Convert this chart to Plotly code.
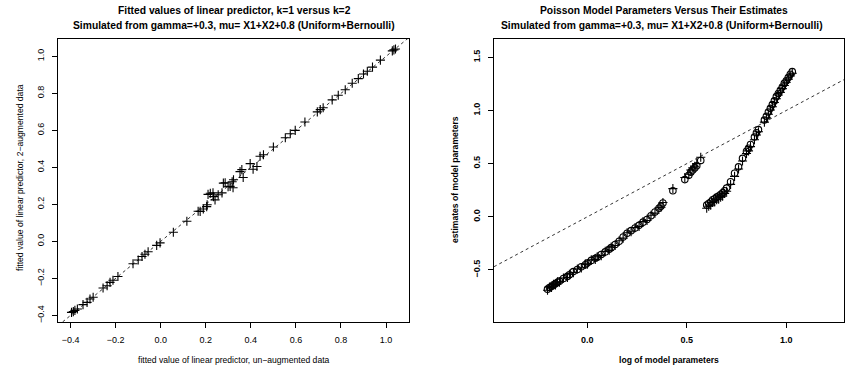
import plotly.graph_objects as go

W, H = 854, 368

# ---------------- Left panel data: fitted linear predictor k=1 vs k=2 ----------------
left_x = [-0.396, -0.388, -0.381, -0.370, -0.345, -0.327, -0.314, -0.300,
          -0.256, -0.238, -0.225, -0.212, -0.190,
          -0.123, -0.100, -0.083, -0.070, -0.056, -0.018, -0.003,
          0.056, 0.116, 0.166, 0.175, 0.189, 0.204, 0.206,
          0.210, 0.220, 0.232, 0.234, 0.241, 0.255, 0.272, 0.278, 0.286, 0.299,
          0.308, 0.317, 0.321, 0.323, 0.352, 0.360, 0.366, 0.397, 0.410,
          0.427, 0.441, 0.456,
          0.500, 0.553, 0.575, 0.597, 0.640, 0.695, 0.708, 0.721,
          0.761, 0.788, 0.819, 0.850, 0.877, 0.900, 0.917, 0.940,
          0.975, 1.028, 1.035, 1.042]
left_y = [-0.384, -0.380, -0.373, -0.366, -0.342, -0.330, -0.312, -0.302,
          -0.252, -0.240, -0.222, -0.210, -0.190,
          -0.121, -0.101, -0.082, -0.070, -0.056, -0.022, -0.008,
          0.049, 0.109, 0.163, 0.162, 0.175, 0.188, 0.198,
          0.254, 0.260, 0.262, 0.242, 0.224, 0.252, 0.262, 0.315, 0.317, 0.295,
          0.297, 0.322, 0.290, 0.333, 0.377, 0.388, 0.345, 0.420, 0.390,
          0.405, 0.460, 0.468,
          0.510, 0.560, 0.582, 0.600, 0.645, 0.700, 0.712, 0.722,
          0.765, 0.790, 0.820, 0.855, 0.880, 0.905, 0.920, 0.942,
          0.980, 1.030, 1.035, 1.040]

# ---------------- Right panel data: log true params vs estimates ----------------
right_x = [-0.20, -0.19, -0.18, -0.17, -0.16, -0.15, -0.14, -0.12, -0.10, -0.09,
           -0.07, -0.05, -0.03, -0.01, 0.00, 0.02, 0.04, 0.05, 0.07, 0.09,
           0.11, 0.12, 0.14, 0.16, 0.18, 0.20, 0.22, 0.24, 0.26, 0.28,
           0.30, 0.32, 0.34, 0.36, 0.37, 0.38, 0.43, 0.49, 0.51, 0.52,
           0.53, 0.54, 0.55, 0.57,
           0.60, 0.61, 0.62, 0.63, 0.64, 0.65, 0.66, 0.67, 0.68, 0.69,
           0.70, 0.72, 0.74, 0.76, 0.78, 0.80, 0.81, 0.82, 0.84, 0.85,
           0.86, 0.89, 0.90, 0.91, 0.92, 0.93, 0.94, 0.95, 0.96, 0.97,
           0.98, 0.99, 1.00, 1.01, 1.02, 1.03]
est_k1 = [-0.680, -0.665, -0.655, -0.640, -0.630, -0.615, -0.605, -0.580, -0.560, -0.545,
          -0.515, -0.495, -0.470, -0.450, -0.435, -0.410, -0.390, -0.380, -0.355, -0.330,
          -0.305, -0.290, -0.260, -0.230, -0.190, -0.155, -0.130, -0.105, -0.080, -0.050,
          -0.025, 0.010, 0.045, 0.080, 0.100, 0.130, 0.245, 0.350, 0.390, 0.420,
          0.440, 0.460, 0.480, 0.530,
          0.110, 0.125, 0.140, 0.160, 0.170, 0.185, 0.195, 0.210, 0.225, 0.245,
          0.270, 0.330, 0.410, 0.470, 0.550, 0.615, 0.645, 0.680, 0.750, 0.790,
          0.820, 0.910, 0.945, 0.985, 1.020, 1.055, 1.090, 1.130, 1.160, 1.190,
          1.220, 1.255, 1.280, 1.310, 1.340, 1.365]
est_k2 = [-0.690, -0.660, -0.665, -0.635, -0.640, -0.610, -0.615, -0.575, -0.570, -0.540,
          -0.525, -0.490, -0.480, -0.445, -0.445, -0.405, -0.400, -0.375, -0.365, -0.325,
          -0.315, -0.285, -0.270, -0.225, -0.200, -0.150, -0.140, -0.100, -0.090, -0.045,
          -0.035, 0.015, 0.035, 0.085, 0.090, 0.135, 0.265, 0.370, 0.400, 0.440,
          0.460, 0.475, 0.500, 0.560,
          0.080, 0.100, 0.110, 0.135, 0.140, 0.160, 0.165, 0.185, 0.195, 0.220,
          0.240, 0.305, 0.380, 0.450, 0.525, 0.595, 0.620, 0.660, 0.725, 0.770,
          0.800, 0.890, 0.930, 0.965, 1.005, 1.035, 1.075, 1.110, 1.145, 1.170,
          1.205, 1.235, 1.265, 1.295, 1.325, 1.350]

left_xrange = [-0.456, 1.102]
left_yrange = [-0.436, 1.094]
right_xrange = [-0.469, 1.290]
right_yrange = [-0.989, 1.672]

left_xticks = [-0.4, -0.2, 0.0, 0.2, 0.4, 0.6, 0.8, 1.0]
left_yticks = [-0.4, -0.2, 0.0, 0.2, 0.4, 0.6, 0.8, 1.0]
right_xticks = [0.0, 0.5, 1.0]
right_yticks = [-0.5, 0.0, 0.5, 1.0, 1.5]

FONT = "Liberation Sans, Arial, Helvetica, sans-serif"

fig = go.Figure()

# reference lines y = x (abline(0,1))
fig.add_trace(go.Scatter(x=left_xrange, y=left_xrange, mode="lines",
                         line=dict(color="black", width=0.8, dash="3px,3px"),
                         xaxis="x", yaxis="y", hoverinfo="skip"))
fig.add_trace(go.Scatter(x=right_xrange, y=right_xrange, mode="lines",
                         line=dict(color="black", width=0.8, dash="3px,3px"),
                         xaxis="x2", yaxis="y2", hoverinfo="skip"))

fig.add_trace(go.Scatter(x=left_x, y=left_y, mode="markers",
                         marker=dict(symbol="cross-thin-open", size=6.5, color="black",
                                     line=dict(color="black", width=1.1)),
                         xaxis="x", yaxis="y"))
fig.add_trace(go.Scatter(x=right_x, y=est_k1, mode="markers",
                         marker=dict(symbol="circle-open", size=6.5, color="black",
                                     line=dict(color="black", width=1.1)),
                         xaxis="x2", yaxis="y2"))
fig.add_trace(go.Scatter(x=right_x, y=est_k2, mode="markers",
                         marker=dict(symbol="cross-thin-open", size=6.5, color="black",
                                     line=dict(color="black", width=1.1)),
                         xaxis="x2", yaxis="y2"))

def px_x(p):
    return p / W

def px_y(p):
    return 1 - p / H

axis_common = dict(showgrid=False, zeroline=False, showline=True, mirror=True,
                   linecolor="black", linewidth=1, ticks="outside", ticklen=5,
                   tickwidth=1, tickcolor="black", tickmode="array", automargin=False)

fig.update_layout(
    template="none",
    width=W, height=H, margin=dict(l=0, r=0, t=0, b=0, pad=0),
    paper_bgcolor="white", plot_bgcolor="white", showlegend=False,
    font=dict(family=FONT, color="black", size=9),
    xaxis=dict(domain=[px_x(58), px_x(409)], range=left_xrange, anchor="y",
               tickvals=left_xticks, ticktext=[f"{v:.1f}".replace("-", "\u2212") for v in left_xticks],
               tickfont=dict(size=9), ticklabelstandoff=4, **axis_common),
    yaxis=dict(domain=[px_y(322), px_y(39)], range=left_yrange, anchor="x",
               tickvals=left_yticks, ticktext=[f"{v:.1f}".replace("-", "\u2212") for v in left_yticks],
               tickangle=-90, tickfont=dict(size=9), ticklabelstandoff=4, **axis_common),
    xaxis2=dict(domain=[px_x(494), px_x(844)], range=right_xrange, anchor="y2",
                tickvals=right_xticks, ticktext=[f"<b>{v:.1f}</b>" for v in right_xticks],
                tickfont=dict(size=9), ticklabelstandoff=4, **axis_common),
    yaxis2=dict(domain=[px_y(322), px_y(39)], range=right_yrange, anchor="x2",
                tickvals=right_yticks, ticktext=[f"<b>{v:.1f}</b>".replace("-", "\u2212") for v in right_yticks],
                tickangle=-90, tickfont=dict(size=9), ticklabelstandoff=4, **axis_common),
)

def ann(text, x, y, size, bold=False, angle=0):
    fig.add_annotation(text=(f"<b>{text}</b>" if bold else text),
                       x=px_x(x), y=px_y(y), xref="paper", yref="paper",
                       showarrow=False, xanchor="center", yanchor="middle",
                       textangle=angle, borderpad=0,
                       font=dict(size=size, family=FONT, color="black"))

# titles
ann("Fitted values of linear predictor, k=1 versus k=2", 234, 11, 10.3, bold=True)
ann("Simulated from gamma=+0.3, mu= X1+X2+0.8 (Uniform+Bernoulli)", 234, 25, 10.3, bold=True)
ann("Poisson Model Parameters Versus Their Estimates", 664, 11, 10.3, bold=True)
ann("Simulated from gamma=+0.3, mu= X1+X2+0.8 (Uniform+Bernoulli)", 662, 25, 10.3, bold=True)

# axis titles
ann("fitted value of linear predictor, un\u2212augmented data", 234, 360, 8.6)
ann("fitted value of linear predictor, 2\u2212augmented data", 20, 178, 8.6, angle=-90)
ann("log of model parameters", 669, 360, 8.6, bold=True)
ann("estimates of model parameters", 455, 180, 8.6, bold=True, angle=-90)

fig.write_html("out.html",
               config={"displayModeBar": False, "staticPlot": True},
               post_script="document.body.style.margin='0';document.body.style.overflow='hidden';")
